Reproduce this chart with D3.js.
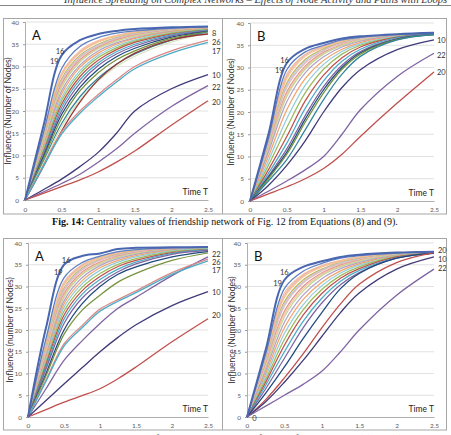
<!DOCTYPE html>
<html>
<head>
<meta charset="utf-8">
<script src="https://cdn.jsdelivr.net/npm/d3@7"></script>
<style>
body { margin: 0; background: #fff; }
svg { display: block; font-family: Lato, "Open Sans", sans-serif; }
</style>
</head>
<body>
<svg id="chart" width="451" height="435"></svg>
<script>
// time steps the curves were read at
const times = [0, 0.25, 0.5, 0.75, 1, 1.25, 1.5, 2, 2.5];
const xTicks = [0, 0.5, 1, 1.5, 2, 2.5];
const yTicks = [0, 5, 10, 15, 20, 25, 30, 35, 40];

// colours of the unlabelled bundle, light ones on top
const bandColors = ["#F9C196", "#E6B9B8", "#FAC090", "#C4B454", "#B9CDE5", "#E6B9B8",
    "#D99694", "#F9C196", "#C3D69B", "#B3A2C7", "#F2A36B", "#93CDDD", "#9BBB59",
    "#C0504D", "#4BACC6", "#8064A2", "#1F497D", "#77933C", "#31859C", "#D7E4BD", "#E46C0A"];

// Fig 14 A
const fig14A_band = [
    [0, 14.5, 28.5, 33.5, 35.8, 37, 37.8, 38.5, 38.9],
    [0, 14.2, 28.2, 33.2, 35.6, 36.9, 37.7, 38.5, 38.9],
    [0, 14, 28, 33, 35.5, 36.8, 37.6, 38.4, 38.8],
    [0, 13.5, 27.2, 32.5, 35, 36.5, 37.4, 38.3, 38.7],
    [0, 13.2, 26.8, 32.2, 34.8, 36.4, 37.3, 38.3, 38.7],
    [0, 13, 26.5, 32, 34.6, 36.2, 37.2, 38.2, 38.7],
    [0, 12.8, 26, 31.5, 34.3, 36, 37, 38.1, 38.6],
    [0, 12.6, 25.6, 31.2, 34.1, 35.8, 36.9, 38, 38.6],
    [0, 12.5, 25.3, 31, 34, 35.7, 36.8, 38, 38.6],
    [0, 12, 24.5, 30.3, 33.5, 35.3, 36.5, 37.9, 38.5],
    [0, 11.7, 23.8, 29.8, 33, 35, 36.3, 37.8, 38.5],
    [0, 11.3, 23, 29, 32.5, 34.6, 36, 37.6, 38.4],
    [0, 11, 22.3, 28.4, 32, 34.2, 35.7, 37.5, 38.3],
    [0, 10.6, 21.5, 27.7, 31.4, 33.8, 35.4, 37.3, 38.2],
    [0, 10.3, 20.8, 27, 30.8, 33.3, 35, 37.1, 38.1],
    [0, 10, 20, 26.2, 30.2, 32.8, 34.6, 36.9, 38],
    [0, 9.6, 19.2, 25.3, 29.4, 32.2, 34.1, 36.6, 37.9],
    [0, 9.2, 18.3, 24.5, 28.6, 31.5, 33.5, 36.3, 37.8],
    [0, 8.6, 17.2, 23.2, 27.4, 30.5, 32.8, 35.9, 37.6],
    [0, 8.2, 16.5, 22.5, 26.8, 30, 32.3, 35.5, 37.5]
];
const fig14A_nodes = ["8", "26", "17", "10", "22", "20", "19", "16"];
const fig14A_lines = [
    [0, 7.5, 15.5, 22, 27, 30.5, 33, 36, 37.3],
    [0, 7.8, 15.3, 20, 23.7, 27, 30, 33.5, 35.9],
    [0, 7.5, 14.8, 19.5, 23.2, 26.5, 29.5, 33, 35.4],
    [0, 2.3, 4.7, 7.5, 10.7, 15, 20, 25, 28.2],
    [0, 1.8, 3.7, 5.8, 8.5, 11.5, 15, 21, 25.7],
    [0, 1.5, 3, 4.5, 6.3, 8.5, 11, 16.8, 22.3],
    [0, 15, 29.5, 34.5, 36.5, 37.5, 38, 38.6, 38.9],
    [0, 16.5, 32.5, 35.9, 37.3, 38, 38.4, 38.8, 39]
];
const fig14A_colors = ["#953735", "#DA8A88", "#4BACC6", "#3F3A78", "#8064A2", "#C0504D", "#5B7FC0", "#4A66B0"];

// Fig 14 B
const fig14B_band = [
    [0, 14, 28.5, 33, 34.8, 36, 36.7, 37.4, 37.8],
    [0, 13.8, 28, 32.8, 34.7, 35.9, 36.7, 37.4, 37.8],
    [0, 13.5, 27.5, 32.5, 34.5, 35.8, 36.6, 37.4, 37.8],
    [0, 13, 26.5, 31.8, 34.2, 35.6, 36.5, 37.4, 37.8],
    [0, 12.8, 26, 31.4, 34, 35.5, 36.5, 37.4, 37.8],
    [0, 12.5, 25.5, 31, 33.8, 35.4, 36.4, 37.3, 37.8],
    [0, 12, 24.5, 30.3, 33.4, 35.1, 36.2, 37.3, 37.7],
    [0, 11.8, 24, 30, 33.2, 35, 36.2, 37.3, 37.7],
    [0, 11.5, 23.5, 29.6, 33, 34.9, 36.1, 37.2, 37.7],
    [0, 11, 22.3, 28.8, 32.4, 34.6, 35.9, 37.2, 37.7],
    [0, 10, 20.5, 27.5, 31.6, 34.1, 35.6, 37.1, 37.7],
    [0, 9, 18.5, 26, 30.7, 33.6, 35.3, 37, 37.6],
    [0, 8, 16.5, 24.3, 29.6, 33, 35, 36.9, 37.6],
    [0, 7, 14.5, 22.5, 28.3, 32.2, 34.6, 36.8, 37.5],
    [0, 6.2, 13, 20.8, 27, 31.4, 34.1, 36.7, 37.5],
    [0, 5.6, 11.7, 19.2, 25.7, 30.5, 33.6, 36.5, 37.5],
    [0, 5.3, 11, 18.4, 25, 30, 33.3, 36.4, 37.4],
    [0, 5, 10.5, 17.7, 24.3, 29.6, 33, 36.3, 37.4],
    [0, 4.5, 9.3, 16, 22.8, 28.5, 32.5, 36.2, 37.4]
];
const fig14B_nodes = ["10", "22", "20", "19", "16"];
const fig14B_lines = [
    [0, 3.5, 8, 13.5, 20, 25.5, 29.5, 34, 36.2],
    [0, 2.2, 4.5, 7, 10, 15, 20.5, 28, 33.2],
    [0, 1.6, 3.2, 5, 7.3, 10.5, 14.5, 22, 29],
    [0, 14, 29.5, 33.5, 35, 36.2, 36.8, 37.4, 37.7],
    [0, 15, 31, 34.2, 35.5, 36.5, 37, 37.5, 37.8]
];
const fig14B_colors = ["#3F3A78", "#8064A2", "#C0504D", "#5B7FC0", "#4A66B0"];

// Fig 15 A
const fig15A_band = [
    [0, 17, 31, 35, 36.8, 37.8, 38.3, 38.8, 39],
    [0, 16.8, 30.6, 34.8, 36.6, 37.7, 38.3, 38.8, 39],
    [0, 16.5, 30.3, 34.6, 36.5, 37.6, 38.2, 38.8, 39],
    [0, 16, 29.6, 34.2, 36.2, 37.4, 38.1, 38.7, 38.9],
    [0, 15.7, 29.3, 34, 36.1, 37.3, 38, 38.7, 38.9],
    [0, 15.5, 29, 33.8, 36, 37.2, 38, 38.7, 38.9],
    [0, 15, 28.3, 33.3, 35.6, 37, 37.8, 38.6, 38.9],
    [0, 14.8, 27.9, 33, 35.4, 36.8, 37.7, 38.5, 38.8],
    [0, 14.5, 27.5, 32.7, 35.2, 36.7, 37.6, 38.5, 38.8],
    [0, 14, 26.7, 32, 34.8, 36.4, 37.4, 38.4, 38.8],
    [0, 13.5, 26, 31.3, 34.3, 36, 37.1, 38.3, 38.7],
    [0, 13, 25.2, 30.6, 33.7, 35.6, 36.8, 38.2, 38.7],
    [0, 12.5, 24.3, 29.8, 33, 35.1, 36.4, 38, 38.6],
    [0, 12, 23.4, 29, 32.3, 34.6, 36, 37.8, 38.5],
    [0, 11.5, 22.5, 28.2, 31.6, 34, 35.6, 37.6, 38.4],
    [0, 11, 21.5, 27.3, 30.8, 33.4, 35.2, 37.4, 38.3],
    [0, 10, 20, 26, 30, 32.8, 34.5, 36.8, 38],
    [0, 9.5, 19, 24.5, 28, 31, 33, 36, 37.7]
];
const fig15A_nodes = ["22", "26", "17", "10", "20", "19", "16"];
const fig15A_lines = [
    [0, 6.5, 13, 17.5, 21.5, 25, 27.5, 32.5, 36.8],
    [0, 8.5, 16.8, 21, 24.8, 27, 29, 33.2, 36.3],
    [0, 8.2, 16.3, 20.5, 24.3, 26.6, 28.6, 32.8, 35.9],
    [0, 3.8, 7.6, 11.3, 15, 18.3, 21.2, 25.6, 28.8],
    [0, 1.7, 3.4, 4.9, 6.5, 8.8, 11.5, 17.3, 22.6],
    [0, 18, 32, 35.5, 37, 38, 38.5, 38.9, 39],
    [0, 20.5, 35, 37, 37.6, 38.6, 38.9, 39, 39.1]
];
const fig15A_colors = ["#8064A2", "#DA8A88", "#4BACC6", "#3F3A78", "#C0504D", "#5B7FC0", "#4A66B0"];

// Fig 15 B
const fig15B_band = [
    [0, 14, 28.5, 32.8, 34.8, 36, 36.8, 37.6, 38],
    [0, 13.8, 28, 32.5, 34.7, 35.9, 36.7, 37.6, 38],
    [0, 13.5, 27.5, 32.2, 34.5, 35.8, 36.6, 37.5, 38],
    [0, 13, 26.5, 31.5, 34, 35.5, 36.4, 37.5, 37.9],
    [0, 12.8, 26, 31.1, 33.8, 35.4, 36.3, 37.4, 37.9],
    [0, 12.5, 25.5, 30.8, 33.6, 35.2, 36.2, 37.4, 37.9],
    [0, 12, 24.3, 30, 33.1, 34.9, 36, 37.4, 37.9],
    [0, 11.7, 23.7, 29.5, 32.8, 34.7, 35.9, 37.3, 37.8],
    [0, 11.3, 23, 29, 32.5, 34.5, 35.8, 37.3, 37.8],
    [0, 10.7, 21.8, 28, 31.8, 34.1, 35.5, 37.2, 37.8],
    [0, 10, 20.5, 27, 31, 33.6, 35.2, 37.1, 37.8],
    [0, 9.3, 19.2, 25.8, 30.2, 33.1, 34.9, 37, 37.8],
    [0, 8.6, 17.8, 24.6, 29.3, 32.5, 34.5, 36.9, 37.7],
    [0, 8, 16.5, 23.4, 28.4, 31.9, 34.1, 36.8, 37.7],
    [0, 7.3, 15, 22, 27.3, 31.2, 33.7, 36.6, 37.7],
    [0, 6.5, 13.5, 20.5, 26.2, 30.4, 33.2, 36.5, 37.6],
    [0, 5.5, 11.5, 18, 24, 29.5, 33, 36.5, 37.7]
];
const fig15B_nodes = ["20", "10", "22", "19", "16"];
const fig15B_lines = [
    [0, 4, 9, 14.5, 20.5, 26, 30.5, 35.5, 37.8],
    [0, 3.5, 8, 13, 18.5, 24, 28.5, 34, 36.8],
    [0, 2.5, 5, 7.5, 10.5, 15, 20, 28, 34],
    [0, 14.5, 29.5, 33.5, 35.3, 36.5, 37.1, 37.7, 38],
    [0, 15.5, 31.5, 34.5, 35.8, 36.8, 37.3, 37.8, 38]
];
const fig15B_colors = ["#C0504D", "#3F3A78", "#8064A2", "#5B7FC0", "#4A66B0"];

const svg = d3.select("#chart");

// running header and page rule
svg.append("text")
    .attr("x", 447).attr("y", 2.5)
    .attr("text-anchor", "end")
    .style("font-family", "'Liberation Serif', serif")
    .style("font-style", "italic")
    .style("font-size", "10.5px")
    .attr("fill", "#333")
    .text("Influence Spreading on Complex Networks \u2013 Effects of Node Activity and Paths with Loops");
svg.append("line")
    .attr("x1", 0).attr("x2", 451).attr("y1", 5.5).attr("y2", 5.5)
    .attr("stroke", "#666").attr("stroke-width", 0.8);

// figure frames
function frame(top, bottom) {
    svg.append("rect")
        .attr("x", 3.5).attr("y", top).attr("width", 443).attr("height", bottom - top)
        .attr("fill", "none").attr("stroke", "#A6A6A6");
    svg.append("line")
        .attr("x1", 222.5).attr("x2", 222.5).attr("y1", top).attr("y2", bottom)
        .attr("stroke", "#A6A6A6");
}
frame(18.5, 214);
frame(238.5, 430);

function caption(y, bold, rest) {
    let t = svg.append("text")
        .attr("x", 225).attr("y", y)
        .attr("text-anchor", "middle")
        .style("font-family", "'Liberation Serif', serif")
        .style("font-size", "10px")
        .attr("fill", "#111");
    t.append("tspan").style("font-weight", "bold").text(bold);
    t.append("tspan").text(rest);
}
caption(224.5, "Fig. 14:", " Centrality values of friendship network of Fig. 12 from Equations (8) and (9).");
caption(441.5, "Fig. 15:", " Centrality values of the combined network of Fig. 12 from Equations (8) and (9).");

function drawPanel(p) {
    let x = d3.scaleLinear().domain([0, 2.5]).range([p.x0, p.x1]);
    let y = d3.scaleLinear().domain([0, 40]).range([p.y0, p.y1]);
    let g = svg.append("g");

    // gridlines
    g.selectAll("line.grid")
        .data(yTicks.slice(1))
        .enter().append("line")
        .attr("class", "grid")
        .attr("x1", p.x0).attr("x2", p.x1)
        .attr("y1", d => y(d)).attr("y2", d => y(d))
        .attr("stroke", "#D9D9D9").attr("stroke-width", 0.8);

    let yAxis = g.append("g")
        .attr("transform", "translate(" + p.x0 + ",0)")
        .call(d3.axisLeft(y).tickValues(yTicks).tickSize(2).tickPadding(4));
    let xAxis = g.append("g")
        .attr("transform", "translate(0," + p.y0 + ")")
        .call(d3.axisBottom(x).tickValues(xTicks).tickSize(0).tickPadding(p.xPad).tickFormat(d3.format("")));
    [xAxis, yAxis].forEach(a => {
        a.select(".domain").attr("stroke", "#9A9A9A").attr("stroke-width", 0.8);
        a.selectAll(".tick line").attr("stroke", "#9A9A9A");
        a.selectAll("text")
            .style("font-size", "6.5px")
            .style("font-family", "Lato, sans-serif")
            .attr("fill", "#595959");
    });

    let line = d3.line()
        .x((d, i) => x(times[i]))
        .y(d => y(d))
        .curve(d3.curveCatmullRom.alpha(0.5));

    g.selectAll("path.band")
        .data(p.band)
        .enter().append("path")
        .attr("class", "band")
        .attr("d", line)
        .attr("fill", "none")
        .attr("stroke", (d, i) => bandColors[i % bandColors.length])
        .attr("stroke-width", 1.25);

    g.selectAll("path.node")
        .data(p.lines)
        .enter().append("path")
        .attr("class", "node")
        .attr("d", line)
        .attr("fill", "none")
        .attr("stroke", (d, i) => p.colors[i])
        .attr("stroke-width", (d, i) => p.nodes[i] === "16" ? 2 : 1.3);

    // node labels
    g.selectAll("text.lab")
        .data(p.labels)
        .enter().append("text")
        .attr("class", "lab")
        .attr("x", d => x(d.t) + (d.dx || 0))
        .attr("y", d => y(d.v))
        .attr("dy", "0.35em")
        .style("font-size", "7.5px")
        .attr("fill", "#333")
        .text(d => d.text);

    g.append("text")
        .attr("x", p.x0 + 7).attr("y", p.y1 + 18)
        .style("font-size", "13px")
        .attr("fill", "#111")
        .text(p.letter);

    g.append("text")
        .attr("x", p.x1).attr("y", p.y0 - 5)
        .attr("text-anchor", "end")
        .style("font-size", "8.5px")
        .attr("fill", "#222")
        .text("Time T");

    g.append("text")
        .attr("transform", "translate(" + p.titleX + "," + (p.y0 + p.y1) / 2 + ") rotate(-90)")
        .attr("text-anchor", "middle")
        .attr("dy", "0.35em")
        .style("font-size", "8.5px")
        .attr("fill", "#333")
        .text(p.title);
}

drawPanel({
    x0: 25, x1: 208, y0: 200, y1: 22, xPad: 7, titleX: 8, letter: "A",
    title: "Influence (Number of Nodes)",
    band: fig14A_band, lines: fig14A_lines, colors: fig14A_colors, nodes: fig14A_nodes,
    labels: [
        {text: "16", t: 0.42, v: 33.5}, {text: "19", t: 0.34, v: 31.2},
        {text: "8", t: 2.5, v: 37.4, dx: 4}, {text: "26", t: 2.5, v: 35.4, dx: 4},
        {text: "17", t: 2.5, v: 33.4, dx: 4}, {text: "10", t: 2.5, v: 28.1, dx: 4},
        {text: "22", t: 2.5, v: 25.2, dx: 4}, {text: "20", t: 2.5, v: 22, dx: 4}
    ]
});
drawPanel({
    x0: 250, x1: 434, y0: 201, y1: 23, xPad: 6, titleX: 231, letter: "B",
    title: "Influence (Number of Nodes)",
    band: fig14B_band, lines: fig14B_lines, colors: fig14B_colors, nodes: fig14B_nodes,
    labels: [
        {text: "16", t: 0.41, v: 31.7}, {text: "19", t: 0.34, v: 29.4},
        {text: "10", t: 2.5, v: 36.2, dx: 3}, {text: "22", t: 2.5, v: 32.8, dx: 3},
        {text: "20", t: 2.5, v: 28.8, dx: 3}
    ]
});
drawPanel({
    x0: 28, x1: 208, y0: 417, y1: 243, xPad: 6, titleX: 10, letter: "A",
    title: "Influence (number of Nodes)",
    band: fig15A_band, lines: fig15A_lines, colors: fig15A_colors, nodes: fig15A_nodes,
    labels: [
        {text: "16", t: 0.47, v: 36.1}, {text: "19", t: 0.36, v: 33.3},
        {text: "22", t: 2.5, v: 37.4, dx: 4}, {text: "26", t: 2.5, v: 35.5, dx: 4},
        {text: "17", t: 2.5, v: 33.6, dx: 4}, {text: "10", t: 2.5, v: 28.6, dx: 4},
        {text: "20", t: 2.5, v: 23.4, dx: 4}
    ]
});
drawPanel({
    x0: 247, x1: 434, y0: 417, y1: 243, xPad: 6, titleX: 232, letter: "B",
    title: "Influence (Number of Nodes)",
    band: fig15B_band, lines: fig15B_lines, colors: fig15B_colors, nodes: fig15B_nodes,
    labels: [
        {text: "16", t: 0.44, v: 33.3}, {text: "19", t: 0.35, v: 30.8},
        {text: "20", t: 2.5, v: 38.3, dx: 4}, {text: "10", t: 2.5, v: 36.3, dx: 4},
        {text: "22", t: 2.5, v: 34.1, dx: 4}, {text: "0", t: 0.07, v: -0.4}
    ]
});
</script>
</body>
</html>
